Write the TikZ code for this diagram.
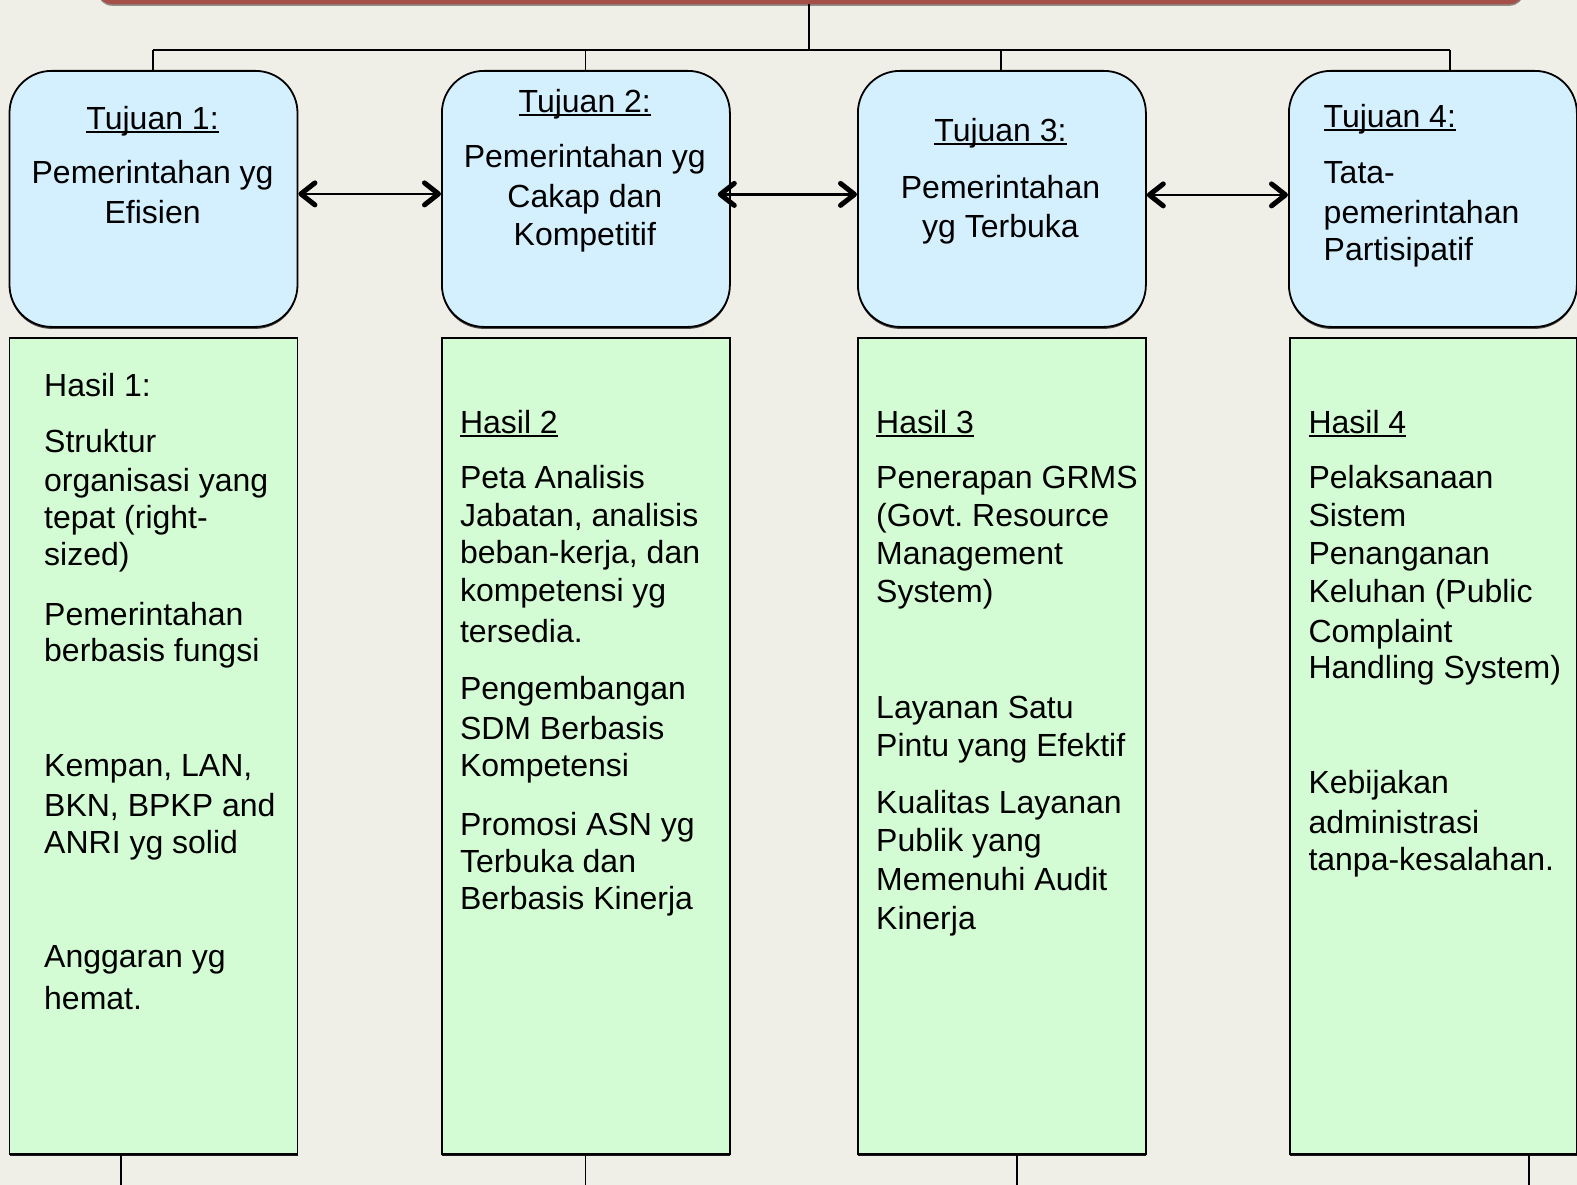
\documentclass[tikz,border=0pt]{standalone}
\usepackage{fontspec}
\setmainfont{Liberation Sans}
\usetikzlibrary{arrows.meta,shadows}
\definecolor{bg}{HTML}{F0EFE7}
\definecolor{tblue}{HTML}{D4EFFD}
\definecolor{hgreen}{HTML}{D4FCD4}
\definecolor{redbar}{HTML}{A54F49}
\newcommand\myul[1]{\setbox0\hbox{#1}\rlap{\rule[-3.5pt]{\wd0}{2pt}}\box0}
\frenchspacing
\begin{document}
\begin{tikzpicture}[x=1pt,y=-1pt,
  tbox/.style={draw=black, line width=1.8pt, fill=tblue, rounded corners=42pt,
    minimum width=288pt, minimum height=256pt, inner sep=0pt, anchor=north west,
    drop shadow={shadow xshift=0pt, shadow yshift=-2pt, fill=black, opacity=0.7}},
  hbox/.style={draw=black, line width=1.8pt, fill=hgreen,
    minimum width=288pt, minimum height=816pt, inner sep=0pt, anchor=north west,
    drop shadow={shadow xshift=0pt, shadow yshift=-2.5pt, fill=black, opacity=0.9}},
  conn/.style={draw=black, line width=1.6pt},
  biarrow/.style={line width=2.5pt,
    {Straight Barb[length=14pt,width=22pt,line width=5pt,round]}-{Straight Barb[length=14pt,width=22pt,line width=5pt,round]}},
  txt/.style={anchor=base west, inner sep=0pt, font=\fontsize{32}{38}\selectfont},
  ctxt/.style={anchor=base, inner sep=0pt, font=\fontsize{32}{38}\selectfont}
]
\useasboundingbox (0,0) rectangle (1577,1185);
\fill[bg] (0,0) rectangle (1577,1185);

% top goal bar (cut off)
\node[fill=redbar, rounded corners=14pt, minimum width=1426pt, minimum height=60pt,
  anchor=south west, inner sep=0pt,
  drop shadow={shadow xshift=0pt, shadow yshift=-1.5pt, fill=black, opacity=0.4}] (goal) at (97.6,4.5) {};

% Tujuan boxes
\node[tbox] (t1) at (8.6,70) {};
\node[tbox] (t2) at (441,70) {};
\node[tbox] (t3) at (857,70) {};
\node[tbox] (t4) at (1288,70) {};

% Hasil boxes
\node[hbox] (h1) at (8.6,337) {};
\node[hbox] (h2) at (441,337) {};
\node[hbox] (h3) at (857,337) {};
\node[hbox, minimum width=287pt] (h4) at (1289,337) {};

% top connectors
\coordinate (bus) at (808.8,50);
\coordinate (b1) at (152.9,50);
\coordinate (b2) at (585.3,50);
\coordinate (b3) at (1000.7,50);
\coordinate (b4) at (1449.7,50);
\draw[conn] (goal.south -| bus) -- (bus);
\draw[conn] (b1) -- (b4);
\draw[conn] (b1) -- (b1 |- t1.north);
\draw[conn] (b2) -- (b2 |- t2.north);
\draw[conn] (b3) -- (b3 |- t3.north);
\draw[conn] (b4) -- (b4 |- t4.north);

% bottom connectors
\coordinate (e1) at (121,1185);
\coordinate (e2) at (585.5,1185);
\coordinate (e3) at (1017,1185);
\coordinate (e4) at (1529,1185);
\draw[conn] (h1.south -| e1) -- (e1);
\draw[conn] (h2.south -| e2) -- (e2);
\draw[conn] (h3.south -| e3) -- (e3);
\draw[conn] (h4.south -| e4) -- (e4);

% arrows between goals
\draw[biarrow] ([yshift=5pt]t1.east) -- ([yshift=5pt]t2.west);
\draw[biarrow] ([xshift=-13pt,yshift=4.5pt]t2.east) -- ([yshift=4.5pt]t3.west);
\draw[biarrow] ([yshift=4pt]t3.east) -- ([yshift=4pt]t4.west);

% Tujuan texts
\node[ctxt] (t1a) at (152.6,129.5) {\myul{Tujuan 1:}};
\node[ctxt] (t1b) at (152.6,184) {Pemerintahan yg};
\node[ctxt] (t1c) at (152.6,223.4) {Efisien};

\node[ctxt] (t2a) at (584.8,112.4) {\myul{Tujuan 2:}};
\node[ctxt] (t2b) at (584.8,168) {Pemerintahan yg};
\node[ctxt] (t2c) at (584.8,207.4) {Cakap dan};
\node[ctxt] (t2d) at (584.8,245) {Kompetitif};

\node[ctxt] (t3a) at (1000.5,141.4) {\myul{Tujuan 3:}};
\node[ctxt] (t3b) at (1000.5,199) {Pemerintahan};
\node[ctxt] (t3c) at (1000.5,238) {yg Terbuka};

\node[txt] (t4a) at (1323.5,127.4) {\myul{Tujuan 4:}};
\node[txt] (t4b) at (1323.5,183.4) {Tata-};
\node[txt] (t4c) at (1323.5,223.4) {pemerintahan};
\node[txt] (t4d) at (1323.5,260) {Partisipatif};

% Hasil texts
\foreach \lbl/\yy [count=\i] in {{Hasil 1:}/396.5, {Struktur}/452.3, {organisasi yang}/491.6,
  {tepat (right-}/528.2, {sized)}/565.3, {Pemerintahan}/625.1, {berbasis fungsi}/661.2,
  {Kempan, LAN,}/776.9, {BKN, BPKP and}/816.1, {ANRI yg solid}/853.2,
  {Anggaran yg}/967.9, {hemat.}/1009}
  \node[txt] (a\i) at (44,\yy) {\lbl};

\foreach \lbl/\yy [count=\i] in {{\myul{Hasil 2}}/433.1, {Peta Analisis}/488,
  {Jabatan, analisis}/526.9, {beban-kerja, dan}/563.9, {kompetensi yg}/601,
  {tersedia.}/642, {Pengembangan}/699.2, {SDM Berbasis}/739.4, {Kompetensi}/776,
  {Promosi ASN yg}/835.3, {Terbuka dan}/872.8, {Berbasis Kinerja}/909}
  \node[txt] (b\i) at (459.8,\yy) {\lbl};

\foreach \lbl/\yy [count=\i] in {{\myul{Hasil 3}}/433.6, {Penerapan GRMS}/488.2,
  {(Govt. Resource}/526.5, {Management}/564.1, {System)}/602.5,
  {Layanan Satu}/718.3, {Pintu yang Efektif}/756.7,
  {Kualitas Layanan}/813.2, {Publik yang}/851.6, {Memenuhi Audit}/890.3, {Kinerja}/929.9}
  \node[txt] (c\i) at (876,\yy) {\lbl};

\foreach \lbl/\yy [count=\i] in {{\myul{Hasil 4}}/433.6, {Pelaksanaan}/488.2,
  {Sistem}/526.5, {Penanganan}/564.1, {Keluhan (Public}/602.5, {Complaint}/642,
  {Handling System)}/678.8, {Kebijakan}/793.4, {administrasi}/833,
  {tanpa-kesalahan.}/870.6}
  \node[txt] (d\i) at (1308.3,\yy) {\lbl};
\end{tikzpicture}
\end{document}
